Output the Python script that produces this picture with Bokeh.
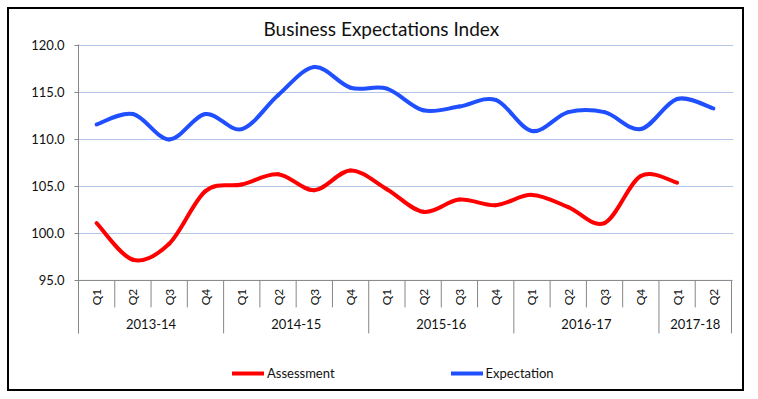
from bokeh.plotting import figure
from bokeh.models import Range1d, FixedTicker, NumeralTickFormatter, Legend, LegendItem, ColumnDataSource
from bokeh.core.properties import value
from bokeh.embed import file_html
from bokeh.resources import INLINE

# ---- data ----
years = ["2013-14", "2014-15", "2015-16", "2016-17", "2017-18"]
quarters_per_year = [4, 4, 4, 4, 2]
quarter_names = ["Q1", "Q2", "Q3", "Q4"]
assessment = [101.1, 97.2, 98.9, 104.5, 105.2, 106.3, 104.6, 106.7, 104.7,
              102.3, 103.6, 103.0, 104.1, 102.8, 101.1, 106.1, 105.4]
expectation = [111.6, 112.7, 110.0, 112.7, 111.1, 114.7, 117.7, 115.5, 115.4,
               113.1, 113.5, 114.2, 110.9, 112.9, 112.9, 111.1, 114.3, 113.3]
y_ticks = [95, 100, 105, 110, 115, 120]

FONT = "Lato"
TXT = "#111111"

quarter_labels = []
for y, n in zip(years, quarters_per_year):
    quarter_labels += quarter_names[:n]
n_cat = len(quarter_labels)

Y_LOW = 89.36     # bottom of category label area
p = figure(width=737, height=384,
           x_range=Range1d(0, 18.055), y_range=Range1d(83.18, 120.1),
           output_backend="svg", toolbar_location=None,
           min_border_left=69, min_border_right=13,
           min_border_top=35, min_border_bottom=2)
p.styles = {"border": "2px solid #000000", "margin": "7px 0px 0px 7px"}
p.outline_line_color = None
p.xaxis.visible = False
p.xgrid.visible = False

p.title.text = "Business Expectations Index"
p.title.align = "left"
p.title.offset = 185
p.title.text_font = FONT
p.title.text_font_size = "19px"
p.title.text_font_style = "normal"
p.title.text_color = TXT
p.title.standoff = 10

yt = FixedTicker(ticks=y_ticks)
ax = p.yaxis[0]
ax.ticker = yt
ax.bounds = (Y_LOW, 120.1)
ax.formatter = NumeralTickFormatter(format="0.0")
ax.axis_line_color = "#868686"
ax.major_tick_line_color = "#868686"
ax.major_tick_out = 4
ax.major_tick_in = 0
ax.minor_tick_line_color = None
ax.major_label_standoff = 10
ax.major_label_text_font = FONT
ax.major_label_text_font_size = "13px"
ax.major_label_text_color = TXT
p.ygrid.ticker = yt
p.ygrid.grid_line_color = "#b4c6e7"
p.ygrid.grid_line_width = 1

ymin = y_ticks[0]
# horizontal category axis line
p.segment(x0=[0], y0=[ymin], x1=[n_cat], y1=[ymin], line_color="#868686", line_width=1)

# separators
bounds = [0]
for n in quarters_per_year:
    bounds.append(bounds[-1] + n)
year_b = set(bounds)
q_x = [i for i in range(1, n_cat) if i not in year_b]
p.segment(x0=q_x, y0=[ymin] * len(q_x), x1=q_x, y1=[92.13] * len(q_x),
          line_color="#868686", line_width=1)
yb = sorted(year_b)
p.segment(x0=yb, y0=[ymin] * len(yb), x1=yb, y1=[Y_LOW] * len(yb),
          line_color="#868686", line_width=1)

# quarter labels
qsrc = ColumnDataSource(dict(x=[i + 0.5 for i in range(n_cat)], y=[93.24] * n_cat, t=quarter_labels))
p.text(x="x", y="y", text="t", source=qsrc, angle=1.5708, text_align="center",
       text_baseline="middle", text_font=value(FONT), text_font_size="12px", text_color=TXT)
# year labels
ysrc = ColumnDataSource(dict(x=[(bounds[i] + bounds[i + 1]) / 2 for i in range(len(years))],
                             y=[90.39] * len(years), t=years))
p.text(x="x", y="y", text="t", source=ysrc, text_align="center", text_baseline="middle",
       text_font=value(FONT), text_font_size="13px", text_color=TXT)


def bezier_source(vals):
    xs = [i + 0.5 for i in range(len(vals))]
    d = dict(x0=[], y0=[], x1=[], y1=[], cx0=[], cy0=[], cx1=[], cy1=[])
    n = len(vals)
    for i in range(n - 1):
        a = max(i - 1, 0)
        b = min(i + 2, n - 1)
        d["x0"].append(xs[i]); d["y0"].append(vals[i])
        d["x1"].append(xs[i + 1]); d["y1"].append(vals[i + 1])
        d["cx0"].append(xs[i] + (xs[i + 1] - xs[a]) / 6)
        d["cy0"].append(vals[i] + (vals[i + 1] - vals[a]) / 6)
        d["cx1"].append(xs[i + 1] - (xs[b] - xs[i]) / 6)
        d["cy1"].append(vals[i + 1] - (vals[b] - vals[i]) / 6)
    return ColumnDataSource(d)


r_a = p.bezier(x0="x0", y0="y0", x1="x1", y1="y1", cx0="cx0", cy0="cy0", cx1="cx1", cy1="cy1",
               source=bezier_source(assessment), line_color="#ff0000", line_width=4, line_cap="round")
r_e = p.bezier(x0="x0", y0="y0", x1="x1", y1="y1", cx0="cx0", cy0="cy0", cx1="cx1", cy1="cy1",
               source=bezier_source(expectation), line_color="#1f4fff", line_width=4, line_cap="round")

legend = Legend(items=[LegendItem(label="Assessment", renderers=[r_a]),
                       LegendItem(label="Expectation", renderers=[r_e])],
                orientation="horizontal", location=(154, 10),
                glyph_width=32, glyph_height=16, label_standoff=3, spacing=116,
                padding=0, margin=0, border_line_color=None, background_fill_alpha=0,
                label_text_font=FONT, label_text_font_size="13px", label_text_color=TXT)
p.add_layout(legend)

open("out.html", "w").write(file_html(p, INLINE))
